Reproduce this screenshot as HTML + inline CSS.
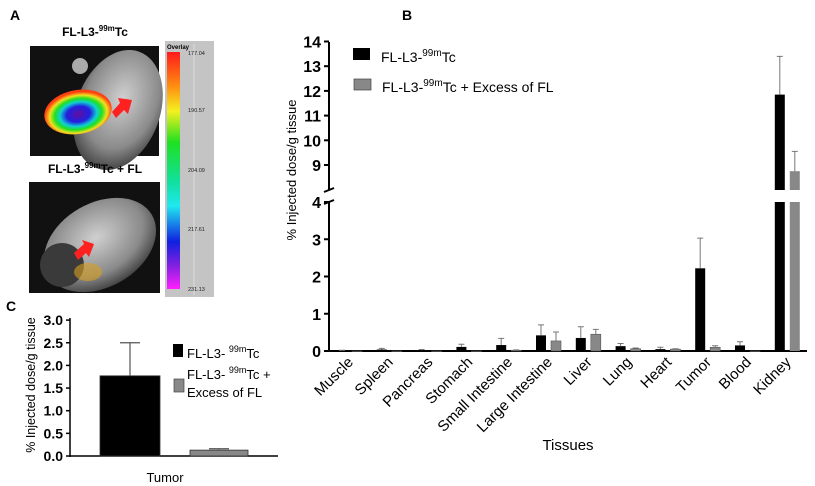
<!DOCTYPE html>
<html><head><meta charset="utf-8">
<style>
html,body{margin:0;padding:0;background:#fff;}
svg{display:block;font-family:"Liberation Sans",Arial,sans-serif;}
</style></head>
<body>
<svg width="815" height="486" viewBox="0 0 815 486">
<defs>
<linearGradient id="cbar" x1="0" y1="0" x2="0" y2="1">
<stop offset="0" stop-color="#ff1a1a"/><stop offset="0.14" stop-color="#ff8a10"/><stop offset="0.25" stop-color="#f4f020"/>
<stop offset="0.38" stop-color="#20e020"/><stop offset="0.55" stop-color="#10e0a0"/><stop offset="0.65" stop-color="#20e8f0"/>
<stop offset="0.8" stop-color="#1020e0"/><stop offset="0.9" stop-color="#8020e0"/><stop offset="1" stop-color="#ff20ff"/>
</linearGradient>
<radialGradient id="blob" cx="0.5" cy="0.55" r="0.5">
<stop offset="0" stop-color="#6010a0"/><stop offset="0.35" stop-color="#2020e0"/><stop offset="0.55" stop-color="#10d0d0"/>
<stop offset="0.7" stop-color="#20e020"/><stop offset="0.85" stop-color="#f0e020"/><stop offset="1" stop-color="#ff4010"/>
</radialGradient>
<radialGradient id="mouse" cx="0.5" cy="0.4" r="0.6">
<stop offset="0" stop-color="#d0d0d0"/><stop offset="0.7" stop-color="#8a8a8a"/><stop offset="1" stop-color="#444"/>
</radialGradient>
</defs>

<!-- Panel A -->
<g>
<text x="10" y="20" font-size="14" font-weight="bold">A</text>
<text x="95" y="36" font-size="12" font-weight="bold" text-anchor="middle">FL-L3-<tspan font-size="8" dy="-5">99m</tspan><tspan dy="5">Tc</tspan></text>
<g>
<rect x="30" y="46" width="129" height="110" fill="#111"/>
<ellipse cx="118" cy="110" rx="42" ry="62" fill="url(#mouse)" transform="rotate(20 118 110)"/>
<circle cx="80" cy="66" r="8" fill="#aaa"/>
<ellipse cx="78" cy="112" rx="34" ry="22" fill="url(#blob)" transform="rotate(-10 78 112)"/>
<polygon points="112,112 120,103 118,98 132,100 128,114 124,110 116,118" fill="#ff2020"/>
</g>
<text x="95" y="173" font-size="12" font-weight="bold" text-anchor="middle">FL-L3-<tspan font-size="8" dy="-5">99m</tspan><tspan dy="5">Tc + FL</tspan></text>
<g>
<rect x="29" y="182" width="131" height="111" fill="#111"/>
<ellipse cx="100" cy="245" rx="60" ry="42" fill="url(#mouse)" transform="rotate(-30 100 245)"/>
<ellipse cx="62" cy="265" rx="22" ry="22" fill="#3a3a3a"/>
<polygon points="74,253 84,244 82,240 94,244 89,257 86,253 78,260" fill="#ff2020"/>
<ellipse cx="88" cy="272" rx="14" ry="9" fill="#d8a020" opacity="0.6"/>
</g>
<g>
<rect x="165" y="41" width="49" height="256" fill="#c4c4c4"/>
<rect x="167" y="52" width="13" height="237" fill="url(#cbar)"/>
<line x1="194" y1="44" x2="194" y2="295" stroke="#ddd"/>
<text x="167" y="49" font-size="6" font-weight="bold">Overlay</text>
<g font-size="5.5" fill="#222">
<text x="188" y="55">177.04</text><text x="188" y="112">190.57</text><text x="188" y="172">204.09</text><text x="188" y="231">217.61</text><text x="188" y="291">231.13</text>
</g>
</g>
</g>

<!-- Panel B -->
<g id="panelB">
<text x="402" y="20" font-size="14" font-weight="bold">B</text>
<text transform="translate(296,170) rotate(-90)" font-size="13" text-anchor="middle">% Injected dose/g tissue</text>
<text x="568" y="450" font-size="15" text-anchor="middle">Tissues</text>
<rect x="353" y="48" width="17" height="12" fill="#000"/>
<text x="381" y="62" font-size="14">FL-L3-<tspan font-size="10" dy="-6">99m</tspan><tspan dy="6">Tc</tspan></text>
<rect x="354" y="79" width="17" height="11" fill="#888" stroke="#444" stroke-width="0.7"/>
<text x="382" y="92" font-size="14">FL-L3-<tspan font-size="10" dy="-6">99m</tspan><tspan dy="6">Tc + Excess of FL</tspan></text>
</g>

<!-- Panel C -->
<g id="panelC">
<text x="6" y="311" font-size="14" font-weight="bold">C</text>
<text transform="translate(35,385) rotate(-90)" font-size="12.5" text-anchor="middle">% Injected dose/g tissue</text>
<text x="165" y="482" font-size="13" text-anchor="middle">Tumor</text>
<rect x="173" y="344" width="10" height="13" fill="#000"/>
<text x="187" y="358" font-size="13">FL-L3- <tspan font-size="9" dy="-6">99m</tspan><tspan dy="6">Tc</tspan></text>
<rect x="174" y="379" width="10" height="13" fill="#888" stroke="#444" stroke-width="0.7"/>
<text x="187" y="379" font-size="13">FL-L3- <tspan font-size="9" dy="-6">99m</tspan><tspan dy="6">Tc +</tspan></text>
<text x="187" y="397" font-size="13">Excess of FL</text>
</g>
</svg>
<script>
const categories = ["Muscle","Spleen","Pancreas","Stomach","Small Intestine","Large Intestine","Liver","Lung","Heart","Tumor","Blood","Kidney"];
const tracerValues = [0.01,0.04,0.02,0.11,0.16,0.42,0.35,0.13,0.05,2.22,0.15,11.85];
const tracerErrors = [0.01,0.03,0.02,0.07,0.18,0.28,0.30,0.07,0.05,0.81,0.10,1.55];
const blockedValues = [0.0,0.0,0.0,0.0,0.02,0.27,0.45,0.06,0.05,0.10,0.0,8.75];
const blockedErrors = [0.0,0.0,0.0,0.0,0.01,0.24,0.13,0.02,0.01,0.04,0.0,0.80];
const lowerTicks = [0,1,2,3,4];
const upperTicks = [9,10,11,12,13,14];
const cCategories = ["Tumor"];
const cTracer = [1.77];
const cTracerErr = [0.73];
const cBlocked = [0.13];
const cBlockedErr = [0.03];
const cTicks = ["0.0","0.5","1.0","1.5","2.0","2.5","3.0"];

const NS = "http://www.w3.org/2000/svg";
function mk(parent, tag, attrs){const e=document.createElementNS(NS,tag);for(const k in attrs)e.setAttribute(k,attrs[k]);parent.appendChild(e);return e;}

const B = document.getElementById('panelB');
const axX = 329, axRight = 807;
function yB(v){ if(v<=4) return 351 - v*37.25; return 165 - (v-9)*24.7; }
const breakLow = 202, breakHigh = 190;
function xB(i){ return 342 + i*39.8; }

let ax = mk(B,'line',{x1:axX,y1:42,x2:axX,y2:190,stroke:'#000','stroke-width':2});


ax = mk(B,'line',{x1:axX,y1:202,x2:axX,y2:352,stroke:'#000','stroke-width':2});


ax = mk(B,'line',{x1:axX-1,y1:351,x2:axRight,y2:351,stroke:'#000','stroke-width':2});


let br = mk(B,'path',{d:'M324,192 L334,188 M324,204 L334,200',stroke:'#000','stroke-width':2,fill:'none'});



lowerTicks.concat(upperTicks).forEach(v=>{
  const y=yB(v);
  const t=mk(B,'line',{x1:axX-5,y1:y,x2:axX,y2:y,stroke:'#000','stroke-width':2});
  
  
  const l=mk(B,'text',{x:axX-8,y:y+6,'font-size':16,'font-weight':'bold','text-anchor':'end'});
  l.textContent=v;
  
  
});

function drawBar(x,v,e,fill,name){
  const w=10, base=yB(0);
  if(v>4){
    const r1=mk(B,'rect',{x:x-w/2,y:breakLow,width:w,height:base-breakLow,fill:fill});
    
    
    const top=yB(v);
    const r2=mk(B,'rect',{x:x-w/2,y:top,width:w,height:breakHigh-top,fill:fill});
    
    
  } else {
    const top=yB(v);
    const r=mk(B,'rect',{x:x-w/2,y:top,width:w,height:Math.max(base-top,0.5),fill:fill,stroke:fill=='#888'?'#555':'none','stroke-width':0.6});
    
    
  }
  if(e>0){
    const y0=yB(v), y1=yB(v+e);
    const eb=mk(B,'path',{d:`M${x},${y0} L${x},${y1} M${x-3},${y1} L${x+3},${y1}`,stroke:'#777','stroke-width':1,fill:'none'});
    
    
  }
}
categories.forEach((c,i)=>{
  const cx=xB(i);
  drawBar(cx,tracerValues[i],tracerErrors[i],'#000','bar-tracer-'+i);
  drawBar(cx+15,blockedValues[i],blockedErrors[i],'#888','bar-blocked-'+i);
  const lx=cx+12, ly=363;
  const t=mk(B,'text',{x:lx,y:ly,'font-size':15,'text-anchor':'end',transform:`rotate(-45 ${lx} ${ly})`});
  t.textContent=c;
  
  
});

const C = document.getElementById('panelC');
function yC(v){ return 456 - v*45.3; }
let cax=mk(C,'line',{x1:70,y1:318,x2:70,y2:457,stroke:'#000','stroke-width':1.5});


cax=mk(C,'line',{x1:70,y1:456,x2:278,y2:456,stroke:'#000','stroke-width':1.5});


cTicks.forEach(s=>{
  const v=parseFloat(s), y=yC(v);
  const t=mk(C,'line',{x1:66,y1:y,x2:70,y2:y,stroke:'#000','stroke-width':1.5});
  
  
  const l=mk(C,'text',{x:63,y:y+5,'font-size':14,'font-weight':'bold','text-anchor':'end'});
  l.textContent=s;
  
  
});
function cBar(x0,w,v,e,fill,name){
  const top=yC(v);
  const r=mk(C,'rect',{x:x0,y:top,width:w,height:456-top,fill:fill,stroke:'#333','stroke-width':0.8});
  
  
  const cx=x0+w/2, y1=yC(v+e);
  const eb=mk(C,'path',{d:`M${cx},${top} L${cx},${y1} M${cx-10},${y1} L${cx+10},${y1}`,stroke:'#555','stroke-width':1.2,fill:'none'});
  
  
}
cBar(100,60,cTracer[0],cTracerErr[0],'#000','c-bar-tracer');
cBar(190,58,cBlocked[0],cBlockedErr[0],'#888','c-bar-blocked');
</script>
</body></html>
